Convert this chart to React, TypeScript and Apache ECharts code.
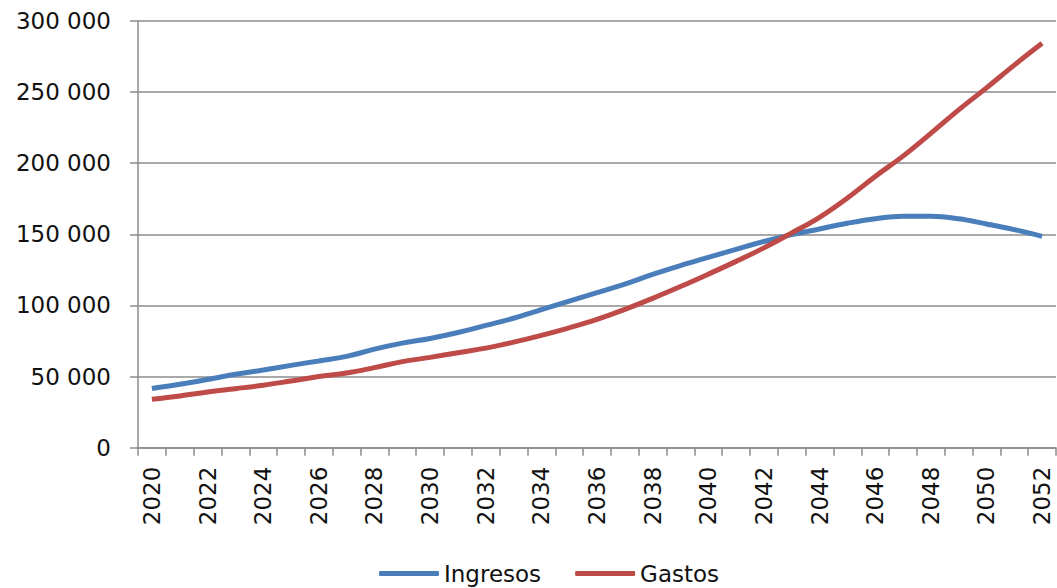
import React, { useEffect, useRef } from "react";
import * as echarts from "echarts";

const years: string[] = [
  "2020", "2021", "2022", "2023", "2024", "2025", "2026", "2027", "2028", "2029",
  "2030", "2031", "2032", "2033", "2034", "2035", "2036", "2037", "2038", "2039",
  "2040", "2041", "2042", "2043", "2044", "2045", "2046", "2047", "2048", "2049",
  "2050", "2051", "2052",
];

const ingresos: number[] = [
  41600, 44600, 48000, 51600, 54600, 57900, 61000, 64200, 69300, 73500,
  76800, 81000, 86000, 91000, 97000, 103000, 109000, 115000, 121800, 128000,
  133800, 139500, 145000, 149800, 153800, 157800, 161000, 162700, 162700, 161000,
  157300, 153300, 148600,
];

const gastos: number[] = [
  34000, 36400, 39200, 41500, 43900, 46900, 50000, 52500, 56300, 60500,
  63500, 66800, 70000, 74200, 79000, 84300, 90200, 97200, 105000, 113300,
  122000, 131000, 140500, 151000, 162000, 175500, 190700, 205000, 221000, 237500,
  253000, 269000, 284300,
];

const seriesNames: string[] = ["Ingresos", "Gastos"];

const FONT = "DejaVu Sans";
const TEXT = "#111111";
const GRIDC = "#8c8c8c";

function fmt(v: number): string {
  return String(v).replace(/\B(?=(\d{3})+(?!\d))/g, " ");
}

export default function App() {
  const ref = useRef<HTMLDivElement>(null);
  useEffect(() => {
    if (!ref.current) return;
    const chart = echarts.init(ref.current, undefined, { renderer: "svg" });
    chart.setOption({
      animation: false,
      backgroundColor: "#ffffff",
      textStyle: { fontFamily: FONT },
      grid: { left: 138, right: 1, top: 21, bottom: 140.3, containLabel: false },
      legend: {
        data: seriesNames,
        top: 557,
        left: 374,
        icon: "roundRect",
        itemWidth: 60,
        itemHeight: 5,
        itemGap: 34,
        textStyle: { fontFamily: FONT, fontSize: 23, color: TEXT },
      },
      xAxis: {
        type: "category",
        data: years,
        boundaryGap: true,
        axisLine: { show: true, lineStyle: { color: GRIDC, width: 1.5 } },
        axisTick: { show: true, interval: 0, length: 8, lineStyle: { color: GRIDC, width: 1.5 } },
        axisLabel: {
          interval: 1,
          rotate: 90,
          margin: 19,
          fontFamily: FONT,
          fontSize: 23,
          color: TEXT,
        },
        splitLine: { show: false },
      },
      yAxis: {
        type: "value",
        min: 0,
        max: 300000,
        interval: 50000,
        axisLine: { show: true, lineStyle: { color: GRIDC, width: 1.5 } },
        axisTick: { show: true, length: 8, lineStyle: { color: GRIDC, width: 1.5 } },
        axisLabel: {
          margin: 27,
          fontFamily: FONT,
          fontSize: 23,
          color: TEXT,
          formatter: (v: number) => fmt(v),
        },
        splitLine: { show: true, lineStyle: { color: GRIDC, width: 1.5 } },
      },
      series: [
        {
          name: seriesNames[0],
          type: "line",
          data: ingresos,
          smooth: 0.4,
          showSymbol: false,
          symbol: "none",
          lineStyle: { color: "#4A7EBB", width: 5 },
          itemStyle: { color: "#4A7EBB" },
        },
        {
          name: seriesNames[1],
          type: "line",
          data: gastos,
          smooth: 0.4,
          showSymbol: false,
          symbol: "none",
          lineStyle: { color: "#BE4B48", width: 5 },
          itemStyle: { color: "#BE4B48" },
        },
      ],
    });
    return () => chart.dispose();
  }, []);
  return (
    <div
      ref={ref}
      style={{ position: "fixed", left: 0, top: 0, width: 1057, height: 588, background: "#fff" }}
    />
  );
}
